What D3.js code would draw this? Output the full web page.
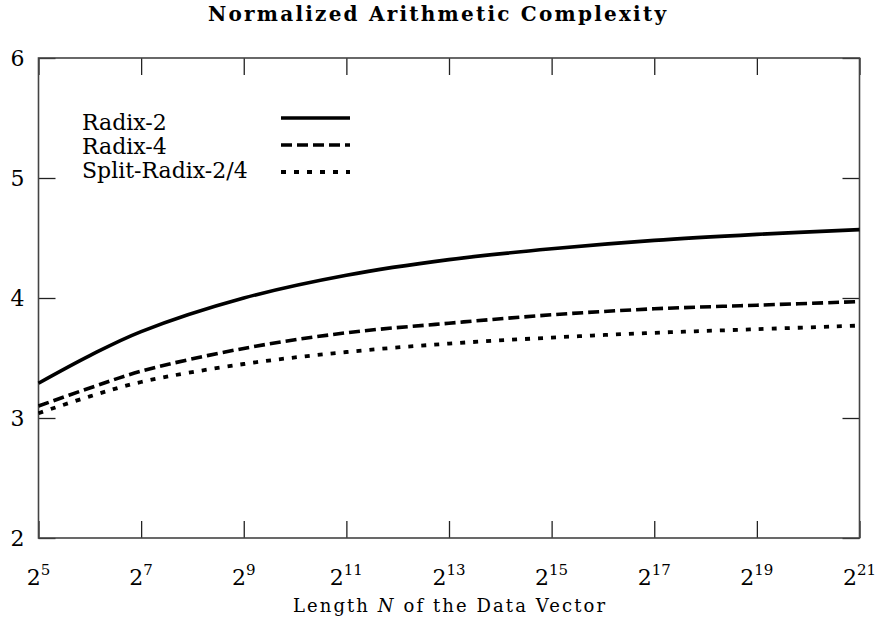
<!DOCTYPE html>
<html>
<head>
<meta charset="utf-8">
<script src="https://cdn.jsdelivr.net/npm/d3@7"></script>
<style>
  body { margin: 0; background: #fff; }
</style>
</head>
<body>
<div id="chart"></div>
<script>
// exponents of N (N = 2^n) and the three complexity curves
var exponents = [5, 6, 7, 9, 11, 13, 15, 17, 19, 21];
var radix2 = [3.29, 3.52, 3.72, 4.00, 4.19, 4.32, 4.41, 4.48, 4.53, 4.57];
var radix4 = [3.10, 3.25, 3.39, 3.58, 3.71, 3.79, 3.86, 3.91, 3.94, 3.97];
var splitRadix = [3.04, 3.18, 3.30, 3.45, 3.55, 3.62, 3.67, 3.71, 3.74, 3.77];

var xTickExps = [5, 7, 9, 11, 13, 15, 17, 19, 21];
var yTicks = [2, 3, 4, 5, 6];
var seriesNames = ["Radix-2", "Radix-4", "Split-Radix-2/4"];

var W = 878, H = 617;
var margin = {top: 58, right: 18.5, bottom: 79, left: 38.5};
var width = W - margin.left - margin.right,
    height = H - margin.top - margin.bottom;
var serif = "'DejaVu Serif', 'Liberation Serif', serif";

var svg = d3.select("#chart").append("svg")
    .attr("width", W)
    .attr("height", H)
    .attr("font-family", serif);

var g = svg.append("g")
    .attr("transform", "translate(" + margin.left + "," + margin.top + ")");

var x = d3.scaleLog().base(2)
    .domain([Math.pow(2, 5), Math.pow(2, 21)])
    .range([0, width]);
var y = d3.scaleLinear()
    .domain([2, 6])
    .range([height, 0]);

// title
svg.append("text")
    .attr("x", 437)
    .attr("y", 21)
    .attr("text-anchor", "middle")
    .attr("font-weight", "bold")
    .attr("font-size", "20px")
    .attr("textLength", 458)
    .attr("lengthAdjust", "spacing")
    .text("Normalized Arithmetic Complexity");

// ticks on all four sides, pointing inward
var tickLen = 17;
var xTickVals = xTickExps.map(function(e) { return Math.pow(2, e); });

g.append("g")
    .attr("transform", "translate(0," + height + ")")
    .call(d3.axisBottom(x).tickValues(xTickVals).tickSize(-tickLen).tickFormat(""));
g.append("g")
    .call(d3.axisTop(x).tickValues(xTickVals).tickSize(-tickLen).tickFormat(""));
g.append("g")
    .call(d3.axisLeft(y).tickValues(yTicks).tickSize(-tickLen).tickFormat(""));
g.append("g")
    .attr("transform", "translate(" + width + ",0)")
    .call(d3.axisRight(y).tickValues(yTicks).tickSize(-tickLen).tickFormat(""));

g.selectAll(".domain").remove();
g.selectAll(".tick line").attr("stroke", "#222").attr("stroke-width", 1.3);

// frame
g.append("rect")
    .attr("width", width)
    .attr("height", height)
    .attr("fill", "none")
    .attr("stroke", "#444")
    .attr("stroke-width", 1.6);

// y tick labels
g.selectAll(".ylab")
    .data(yTicks)
    .enter().append("text")
    .attr("x", -14)
    .attr("y", function(d) { return y(d); })
    .attr("dy", "0.38em")
    .attr("text-anchor", "end")
    .attr("font-size", "22px")
    .text(function(d) { return d; });

// x tick labels 2^n
var xl = g.selectAll(".xlab")
    .data(xTickExps)
    .enter().append("text")
    .attr("x", function(d) { return x(Math.pow(2, d)); })
    .attr("y", height + 47)
    .attr("text-anchor", "middle")
    .attr("font-size", "22px");
xl.append("tspan").text("2");
xl.append("tspan")
    .attr("font-size", "15px")
    .attr("dy", "-10")
    .text(function(d) { return d; });

// x axis title
var xt = svg.append("text")
    .attr("x", margin.left + width / 2)
    .attr("y", 612)
    .attr("text-anchor", "middle")
    .attr("font-size", "18px")
    .attr("textLength", 312)
    .attr("lengthAdjust", "spacing");
xt.append("tspan").text("Length ");
xt.append("tspan").attr("font-style", "italic").text("N");
xt.append("tspan").text(" of the Data Vector");

// curves
var styles = [
  {dash: null, width: 3.6},
  {dash: "11,5", width: 3.6},
  {dash: "5,8", width: 3.8}
];
var series = [radix2, radix4, splitRadix];

var line = d3.line()
    .x(function(d) { return x(Math.pow(2, d[0])); })
    .y(function(d) { return y(d[1]); })
    .curve(d3.curveCatmullRom.alpha(0.5));

series.forEach(function(vals, i) {
  var pts = exponents.map(function(e, j) { return [e, vals[j]]; });
  g.append("path")
      .datum(pts)
      .attr("fill", "none")
      .attr("stroke", "#000")
      .attr("stroke-width", styles[i].width)
      .attr("stroke-dasharray", styles[i].dash)
      .attr("d", line);
});

// legend
var legendTextY = [130, 154, 178];
var legendLineY = [118, 145, 172];
seriesNames.forEach(function(name, i) {
  svg.append("text")
      .attr("x", 82)
      .attr("y", legendTextY[i])
      .attr("font-size", "22px")
      .text(name);
  svg.append("line")
      .attr("x1", 281)
      .attr("x2", 350)
      .attr("y1", legendLineY[i])
      .attr("y2", legendLineY[i])
      .attr("stroke", "#000")
      .attr("stroke-width", styles[i].width)
      .attr("stroke-dasharray", styles[i].dash);
});
</script>
</body>
</html>
